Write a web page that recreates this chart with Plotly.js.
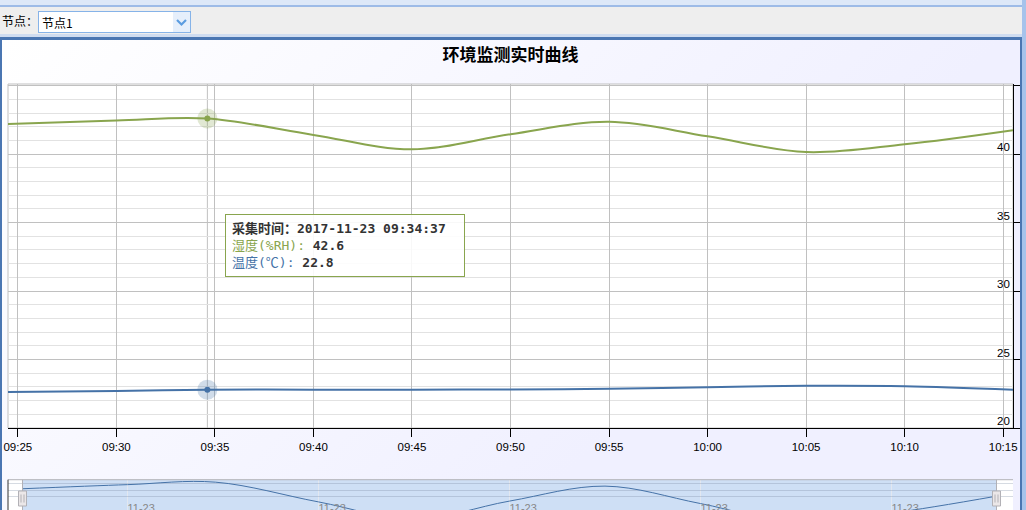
<!DOCTYPE html>
<html>
<head>
<meta charset="utf-8">
<script src="https://cdn.plot.ly/plotly-3.0.1.min.js"></script>
<style>
  html, body { margin: 0; padding: 0; width: 1026px; height: 510px; overflow: hidden; background: #eeeeee; }
  body { position: relative; font-family: "Noto Sans CJK SC", "Liberation Sans", sans-serif; }
  #topbar { position: absolute; left: 0; top: 0; width: 1022px; height: 5px; background: #dde8f8; border-bottom: 2px solid #9dbbe7; }
  #rightstrip { position: absolute; left: 1022px; top: 0; width: 4px; height: 510px; background: #a6c3eb; }
  #nodeLabel { position: absolute; left: 2px; top: 12px; font-size: 12px; line-height: 18px; color: #000; }
  #nodeSelect { position: absolute; left: 38px; top: 11px; width: 151px; height: 20px; border: 1px solid #86b3e8; background: #fff; }
  #nodeSelect .txt { position: absolute; left: 3px; top: 0; font-size: 12px; line-height: 21px; color: #000; }
  #nodeSelect .btn { position: absolute; right: 0; top: 0; width: 17px; height: 20px; background: #e6effb; }
  #sep { position: absolute; left: 0; top: 34px; width: 1022px; height: 3px; background: #cfdcf0; }
  #panel { position: absolute; left: 0; top: 37px; width: 1018px; height: 480px;
           border-top: 3px solid #4a76b2; border-left: 2px solid #4a76b2; border-right: 2px solid #4a76b2;
           background: linear-gradient(135deg, #ffffff 0px, #f0f0ff 707px); overflow: hidden; }
  #chart { position: absolute; left: 0; top: 0; width: 1018px; height: 500px; }
</style>
</head>
<body>
<div id="topbar"></div>
<div id="rightstrip"></div>
<div id="nodeLabel">节点：</div>
<div id="nodeSelect">
  <div class="txt">节点1</div>
  <div class="btn">
    <svg width="17" height="20" viewBox="0 0 17 20">
      <polyline points="4,8 8.5,12.5 13,8" fill="none" stroke="#5b9ce0" stroke-width="2.2"/>
    </svg>
  </div>
</div>
<div id="sep"></div>
<div id="panel"><div id="chart"></div></div>

<script>
// Sample times of the monitoring node
const times = [
  '2017-11-23 09:24:30', '2017-11-23 09:30:00', '2017-11-23 09:34:37',
  '2017-11-23 09:40:00', '2017-11-23 09:45:00', '2017-11-23 09:50:00',
  '2017-11-23 09:55:00', '2017-11-23 10:00:00', '2017-11-23 10:05:00',
  '2017-11-23 10:10:00', '2017-11-23 10:15:30'
];
// Relative humidity (%RH)
const humidity = [42.2, 42.45, 42.6, 41.4, 40.35, 41.45, 42.36, 41.3, 40.15, 40.72, 41.75];
// Temperature (℃)
const temperature = [22.62, 22.7, 22.8, 22.8, 22.8, 22.82, 22.86, 22.98, 23.08, 23.05, 22.8];

// Axis tick labels
const xTickVals = [
  '2017-11-23 09:25', '2017-11-23 09:30', '2017-11-23 09:35', '2017-11-23 09:40',
  '2017-11-23 09:45', '2017-11-23 09:50', '2017-11-23 09:55', '2017-11-23 10:00',
  '2017-11-23 10:05', '2017-11-23 10:10', '2017-11-23 10:15'
];
const xTickText = ['09:25', '09:30', '09:35', '09:40', '09:45', '09:50', '09:55', '10:00', '10:05', '10:10', '10:15'];
const yTickVals = [20, 25, 30, 35, 40, 45];
const yTickText = ['20', '25', '30', '35', '40', ''];

const chartTitle = '环境监测实时曲线';
const humName = '湿度(%RH)';
const tempName = '温度(℃)';
const headerLabel = '采集时间：';

// Index of the sample highlighted by the tooltip
const hoverIdx = 2;

const GREEN = '#89a54e';
const BLUE = '#4572a7';

const toMs = s => Date.parse(s.replace(' ', 'T') + 'Z');
const t0 = toMs(times[0]);
const t1 = toMs(times[times.length - 1]);
const span = t1 - t0;
// navigator keeps a little room on both sides of the data
const navLo = t0 - span * (14.5 / 974);
const navHi = t1 + span * (16.5 / 974);

// vertical layout (paper fractions of the 436px plotting band)
const mainBottom = 0.211;
const navTop = 0.0924;
const handleBot = 0.0321, handleTop = 0.0665;

const data = [
  { x: times, y: humidity, type: 'scatter', mode: 'lines', name: humName,
    line: { color: GREEN, width: 2, shape: 'spline', smoothing: 1 }, xaxis: 'x', yaxis: 'y', hoverinfo: 'skip' },
  { x: times, y: temperature, type: 'scatter', mode: 'lines', name: tempName,
    line: { color: BLUE, width: 2, shape: 'spline', smoothing: 1 }, xaxis: 'x', yaxis: 'y', hoverinfo: 'skip' },
  // highlighted sample: halos and dots
  { x: [times[hoverIdx], times[hoverIdx]], y: [humidity[hoverIdx], temperature[hoverIdx]],
    type: 'scatter', mode: 'markers', xaxis: 'x', yaxis: 'y', hoverinfo: 'skip',
    marker: { size: 20, color: ['rgba(137,165,78,0.25)', 'rgba(69,114,167,0.25)'], line: { width: 0 } } },
  { x: [times[hoverIdx], times[hoverIdx]], y: [humidity[hoverIdx], temperature[hoverIdx]],
    type: 'scatter', mode: 'markers', xaxis: 'x', yaxis: 'y', hoverinfo: 'skip',
    marker: { size: 6, color: [GREEN, BLUE], line: { width: 0 } } },
  // navigator series
  { x: times, y: humidity, type: 'scatter', mode: 'lines', xaxis: 'x2', yaxis: 'y2', hoverinfo: 'skip',
    line: { color: BLUE, width: 1, shape: 'spline', smoothing: 1 } }
];

const handle = (t) => ([
  { type: 'rect', xref: 'x2', xsizemode: 'pixel', xanchor: t, x0: -4, x1: 4,
    yref: 'paper', y0: handleBot, y1: handleTop, fillcolor: '#ebe7e8',
    line: { color: '#b2b1b6', width: 1 }, layer: 'above' },
  { type: 'line', xref: 'x2', xsizemode: 'pixel', xanchor: t, x0: -1.5, x1: -1.5,
    yref: 'paper', y0: handleBot + 0.008, y1: handleTop - 0.008, line: { color: '#b2b1b6', width: 1 }, layer: 'above' },
  { type: 'line', xref: 'x2', xsizemode: 'pixel', xanchor: t, x0: 1.5, x1: 1.5,
    yref: 'paper', y0: handleBot + 0.008, y1: handleTop - 0.008, line: { color: '#b2b1b6', width: 1 }, layer: 'above' }
]);

const shapes = [
  // plot area frame
  { type: 'rect', xref: 'paper', yref: 'paper', x0: 0, x1: 1, y0: mainBottom, y1: 1,
    line: { color: '#c0c0c0', width: 1 }, layer: 'below' },
  // crosshair
  { type: 'line', xref: 'x', x0: times[hoverIdx], x1: times[hoverIdx], yref: 'paper', y0: mainBottom, y1: 1,
    line: { color: '#c0c0c0', width: 1 }, layer: 'between' },
  // navigator selected range
  { type: 'rect', xref: 'x2', x0: times[0], x1: times[times.length - 1], yref: 'paper', y0: -0.1, y1: navTop,
    fillcolor: '#cedff5', line: { width: 0 }, layer: 'below' },
  // navigator outline
  { type: 'line', xref: 'paper', x0: 0, x1: 1, yref: 'paper', y0: navTop, y1: navTop,
    line: { color: '#b2b1b6', width: 1 }, layer: 'above' },
  { type: 'line', xref: 'paper', x0: 0, x1: 0, yref: 'paper', y0: -0.1, y1: navTop,
    line: { color: '#333333', width: 1 }, layer: 'above' },
  { type: 'line', xref: 'x2', x0: times[0], x1: times[0], yref: 'paper', y0: -0.1, y1: navTop,
    line: { color: '#b2b1b6', width: 1 }, layer: 'above' },
  { type: 'line', xref: 'x2', x0: times[times.length - 1], x1: times[times.length - 1], yref: 'paper', y0: -0.1, y1: navTop,
    line: { color: '#b2b1b6', width: 1 }, layer: 'above' },
  ...handle(times[0]),
  ...handle(times[times.length - 1])
];

const tipText =
  '<b>' + headerLabel + times[hoverIdx] + '</b><br>' +
  '<span style="color:' + GREEN + '">' + humName + ':</span> <b>' + humidity[hoverIdx].toFixed(1) + '</b><br>' +
  '<span style="color:' + BLUE + '">' + tempName + ':</span> <b>' + temperature[hoverIdx].toFixed(1) + '</b>';

const axisFont = { family: '"Liberation Sans", Arial, sans-serif', size: 11.5, color: '#000000' };

// value labels of the right axis sit inside the plot, just above their ticks
const yLabelAnnots = yTickVals.map((v, i) => ({
  text: yTickText[i], showarrow: false,
  xref: 'paper', x: 1, xanchor: 'right', xshift: -1,
  yref: 'y', y: v, yanchor: 'bottom', yshift: -1,
  font: axisFont
})).filter(a => a.text !== '');

const layout = {
  width: 1018, height: 500,
  margin: { l: 6, r: 7, t: 44, b: 20, pad: 0 },
  paper_bgcolor: 'rgba(0,0,0,0)',
  plot_bgcolor: '#ffffff',
  showlegend: false,
  hovermode: false,
  title: {
    text: '<b>' + chartTitle + '</b>',
    x: 0.5, xref: 'paper', xanchor: 'center',
    y: 0.97, yref: 'container', yanchor: 'middle',
    font: { family: '"Noto Sans CJK SC", sans-serif', size: 17, color: '#000000' }
  },
  xaxis: {
    type: 'date', domain: [0, 1], anchor: 'y', range: [t0, t1],
    tickmode: 'array', tickvals: xTickVals, ticktext: xTickText,
    ticklabeloverflow: 'allow',
    ticks: 'outside', ticklen: 8, tickcolor: '#000000', tickwidth: 1,
    showline: true, linecolor: '#000000', linewidth: 1,
    showgrid: true, gridcolor: '#c0c0c0', gridwidth: 1, zeroline: false,
    tickfont: axisFont, fixedrange: true
  },
  yaxis: {
    domain: [mainBottom, 1], anchor: 'x', side: 'right', range: [20, 45.12],
    tickmode: 'array', tickvals: yTickVals, showticklabels: false,
    ticks: 'outside', ticklen: 9, tickcolor: '#000000', tickwidth: 1,
    showline: true, linecolor: '#000000', linewidth: 1,
    showgrid: true, gridcolor: '#c0c0c0', gridwidth: 1, zeroline: false,
    minor: { tickmode: 'linear', tick0: 0, dtick: 1, showgrid: true, gridcolor: '#e2e2e2', gridwidth: 1, ticks: '' },
    fixedrange: true
  },
  xaxis2: {
    type: 'date', domain: [0, 1], anchor: 'y2', range: [navLo, navHi],
    tickformat: '%m-%d', tick0: '2017-11-23 09:30:00', dtick: 600000,
    ticklabelposition: 'inside right', ticks: '',
    showline: false, showgrid: true, gridcolor: 'rgba(228,232,240,0.9)', zeroline: false,
    tickfont: { family: '"Liberation Sans", Arial, sans-serif', size: 11, color: '#888888' }, fixedrange: true
  },
  yaxis2: {
    domain: [0, navTop], anchor: 'x2', range: [40.3, 42.75],
    tick0: 0.1, dtick: 0.4, showticklabels: false, ticks: '',
    showgrid: true, gridcolor: 'rgba(120,135,160,0.3)', zeroline: false, showline: false, fixedrange: true
  },
  shapes: shapes,
  annotations: [{
    text: tipText,
    xref: 'x', x: times[hoverIdx], xanchor: 'left', xshift: 18,
    yref: 'paper', y: 0.7018, yanchor: 'top',
    showarrow: false, align: 'left', width: 226,
    bgcolor: 'rgba(255,255,255,0.88)', bordercolor: GREEN, borderwidth: 1, borderpad: 6,
    font: { family: '"DejaVu Sans Mono", "Noto Sans CJK SC", monospace', size: 13, color: '#333333' }
  }, ...yLabelAnnots]
};

Plotly.newPlot('chart', data, layout, { displayModeBar: false, staticPlot: true });
</script>
</body>
</html>
